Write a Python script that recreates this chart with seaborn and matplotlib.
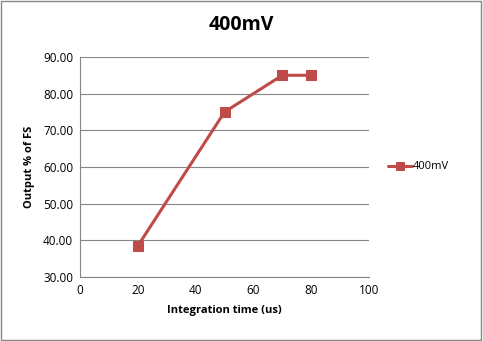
import matplotlib
matplotlib.use("Agg")
import matplotlib.pyplot as plt
import seaborn as sns
import pandas as pd
from matplotlib.patches import Rectangle

integration_time = [20, 50, 70, 80]
output_pct = [38.5, 75.0, 85.0, 85.0]
series_name = "400mV"
x_ticks = [0, 20, 40, 60, 80, 100]
y_ticks = [30, 40, 50, 60, 70, 80, 90]

sns.set_theme(style="white")
plt.rcParams['font.family'] = ['Open Sans', 'DejaVu Sans']
plt.rcParams['text.color'] = 'black'
plt.rcParams['axes.labelcolor'] = 'black'

df = pd.DataFrame({"x": integration_time, "y": output_pct, "s": series_name})

fig = plt.figure(figsize=(4.83, 3.41), dpi=100)
ax = fig.add_axes([0.166, 0.188, 0.598, 0.645])
color = "#BE4B48"
sns.lineplot(data=df, x="x", y="y", hue="s", palette=[color], marker="s",
             markersize=7, linewidth=2.2, markeredgecolor=color, ax=ax, legend=True)

ax.set_xlim(0, 100)
ax.set_ylim(30, 90)
ax.set_xticks(x_ticks)
ax.set_yticks(y_ticks)
ax.set_yticklabels([f"{v:.2f}" for v in y_ticks])
ax.tick_params(labelsize=8.5, colors="#000000", length=0, pad=5)
ax.yaxis.grid(True, color="#868686", linewidth=0.8)
ax.xaxis.grid(False)
for s in ["top", "right"]:
    ax.spines[s].set_visible(False)
for s in ["left", "bottom"]:
    ax.spines[s].set_color("#868686")
    ax.spines[s].set_linewidth(0.8)
ax.set_xlabel("Integration time (us)", fontsize=8, fontweight="bold", labelpad=6, color="black")
ax.set_ylabel("Output % of FS", fontsize=8, fontweight="bold", labelpad=6, color="black")
fig.suptitle("400mV", x=0.5, y=0.955, fontsize=14, fontweight="bold", color="black")

leg = ax.legend(loc="center left", bbox_to_anchor=(1.03, 0.5), frameon=False,
                fontsize=8, handlelength=2.2, handletextpad=0.1, markerscale=0.8)
for t in leg.get_texts():
    t.set_color("black")

fig.patches.append(Rectangle((0.002, 0.003), 0.994, 0.993, transform=fig.transFigure,
                             fill=False, edgecolor="#868686", linewidth=1.0))
fig.savefig("out.png", dpi=100)
